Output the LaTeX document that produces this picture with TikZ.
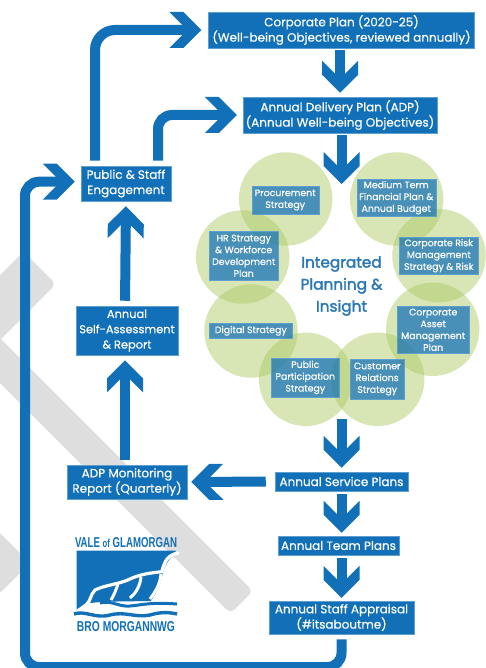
\documentclass[tikz,border=0pt]{standalone}
\usepackage{fontspec}
\usepackage{graphicx}
\setmainfont{Poppins}[RawFeature={embolden=0.5}]
\newfontfamily\corefont{Poppins}[RawFeature={embolden=2.2}]
\newfontfamily\logofont{Liberation Sans}[BoldFont={Liberation Sans Bold}]
\usetikzlibrary{arrows.meta}
\definecolor{flowblue}{HTML}{1170B8}
\definecolor{ringgreen}{HTML}{A9C75E}
\definecolor{wmgray}{HTML}{DEDEDE}
\definecolor{boxedge}{HTML}{5F9FD0}
\definecolor{coretext}{HTML}{2A78B6}
\pgfdeclarearrow{
  name=Chev,
  setup code={
    \pgfarrowssettipend{0pt}
    \pgfarrowssetlineend{-13pt}
    \pgfarrowssetbackend{-32pt}
    \pgfarrowssetvisualbackend{-13pt}
    \pgfarrowshullpoint{0pt}{0pt}
    \pgfarrowsupperhullpoint{-32pt}{18pt}
  },
  drawing code={
    \pgfpathmoveto{\pgfpointorigin}
    \pgfpathlineto{\pgfpoint{-18pt}{18pt}}
    \pgfpathlineto{\pgfpoint{-32pt}{18pt}}
    \pgfpathlineto{\pgfpoint{-14pt}{0pt}}
    \pgfpathlineto{\pgfpoint{-32pt}{-18pt}}
    \pgfpathlineto{\pgfpoint{-18pt}{-18pt}}
    \pgfpathclose
    \pgfusepathqfill
  },
  defaults={}
}
\tikzset{
  flow/.style={color=flowblue,line width=10pt,-{Chev}},
  mainbox/.style={draw=boxedge,line width=.5pt,fill=flowblue,text=white,inner sep=0pt,align=center,
    font=\fontsize{12}{15.3}\selectfont},
  smallbox/.style={draw=boxedge,line width=.4pt,fill=flowblue,fill opacity=.72,text opacity=1,text=white,inner sep=0pt,align=center,
    font=\fontsize{9.4}{11.8}\selectfont},
  ring/.style={circle,fill=ringgreen,fill opacity=.45,minimum size=93.5pt,inner sep=0pt},
  wm/.style={fill=wmgray,rounded corners=6pt},
  corelabel/.style={text=coretext,align=center,font=\corefont\fontsize{15.3}{22}\selectfont},
  logotext/.style={text=flowblue,inner sep=0pt,font=\logofont\bfseries}
}
\begin{document}
\begin{tikzpicture}[x=1pt,y=-1pt]
\useasboundingbox (0,0) rectangle (485,668);
% watermark
\fill[wm] (-5,280) -- (23.5,251.5) -- (56,284) -- (-5,345) -- cycle;
\fill[wm] (-5,333) -- (253,591) -- (230.5,613.5) -- (-5,378) -- cycle;
\fill[wm,rounded corners=10pt] (-5,528) -- (30,563) -- (-5,598) -- cycle;
% rings
\node[ring] (r1) at (285.7,199) {};
\node[ring] (r2) at (396.7,199) {};
\node[ring] (r3) at (439,255.7) {};
\node[ring] (r4) at (432.7,329.3) {};
\node[ring] (r5) at (377.7,379.3) {};
\node[ring] (r6) at (305.7,379.3) {};
\node[ring] (r7) at (251,331) {};
\node[ring] (r8) at (242.7,257) {};
% main boxes
\node[mainbox,minimum width=266pt,minimum height=36pt] (corp) at (341.5,30) {Corporate Plan (2020-25)\\(Well-being Objectives, reviewed annually)};
\node[mainbox,minimum width=194pt,minimum height=36pt] (adp) at (340,115) {Annual Delivery Plan (ADP)\\(Annual Well-being Objectives)};
\node[mainbox,minimum width=90pt,minimum height=35pt] (pub) at (126,183.5) {Public \& Staff\\Engagement};
\node[mainbox,minimum width=102pt,minimum height=49pt,font=\fontsize{11.4}{15.3}\selectfont] (self) at (127,330.5) {Annual\\Self-Assessment\\\& Report};
\node[mainbox,minimum width=120pt,minimum height=34pt] (mon) at (127,482) {ADP Monitoring\\Report (Quarterly)};
\node[mainbox,minimum width=133pt,minimum height=19pt] (serv) at (341.5,481.5) {Annual Service Plans};
\node[mainbox,minimum width=121pt,minimum height=19pt] (team) at (338.5,545.5) {Annual Team Plans};
\node[mainbox,minimum width=145pt,minimum height=33pt] (appr) at (341.5,617.5) {Annual Staff Appraisal\\(\#itsaboutme)};
% centre
\node[corelabel] (core) at (341.5,286) {Integrated\\Planning \&\\Insight};
\coordinate (ringin) at (341.5,184);
\coordinate (ringout) at (341.5,415);
\coordinate (loopbr) at (341.5,667);
\coordinate (loopbl) at (25,667);
\coordinate (looptl) at (25,181.7);
% connectors
\draw[flow,shorten <=2pt,shorten >=4pt] (corp.south -| adp.north) -- (adp.north);
\draw[flow,shorten <=2pt] (adp.south -| ringin) -- (ringin);
\draw[flow,shorten <=4pt,shorten >=4pt] (ringout) -- (serv.north);
\draw[flow,shorten <=3pt,shorten >=3pt] (serv.south) -- (serv.south |- team.north);
\draw[flow,shorten <=3pt,shorten >=3pt] (serv.south |- team.south) -- (appr.north);
\draw[flow,shorten <=9pt,shorten >=4pt] (serv.west) -- (mon.east);
\draw[flow,shorten <=5pt,shorten >=5pt] (mon.north) ++(-2pt,0pt) -- ([xshift=-2pt]self.south);
\draw[flow,shorten <=5pt,shorten >=5pt] ([xshift=-2pt]self.north) -- (pub.south);
\draw[flow,rounded corners=20pt,shorten <=5pt,shorten >=7pt] ([xshift=-31pt]pub.north) |- (corp.west);
\draw[flow,rounded corners=14pt,shorten <=5pt,shorten >=6pt] ([xshift=32pt]pub.north) |- (adp.west);
\draw[flow,rounded corners=14pt,shorten <=5pt,shorten >=6pt] (appr.south) -- (loopbr) -- (loopbl) -- (looptl) -- (pub.west |- looptl);
% small boxes
\node[smallbox,minimum width=67pt,minimum height=28pt] (b1) at (285.2,200) {Procurement\\Strategy};
\node[smallbox,minimum width=79pt,minimum height=36.7pt] (b2) at (396.2,197.7) {Medium Term\\Financial Plan \&\\Annual Budget};
\node[smallbox,minimum width=78.3pt,minimum height=37.3pt] (b3) at (438.8,255.7) {Corporate Risk\\Management\\Strategy \& Risk};
\node[smallbox,minimum width=71.7pt,minimum height=47.7pt] (b4) at (433.2,329.8) {Corporate\\Asset\\Management\\Plan};
\node[smallbox,minimum width=53.7pt,minimum height=40pt] (b5) at (377.2,379) {Customer\\Relations\\Strategy};
\node[smallbox,minimum width=67.3pt,minimum height=39.3pt] (b6) at (305.3,377.4) {Public\\Participation\\Strategy};
\node[smallbox,minimum width=83.7pt,minimum height=15.7pt] (b7) at (250.8,330.8) {Digital Strategy};
\node[smallbox,minimum width=69.3pt,minimum height=48.3pt] (b8) at (243.7,255.8) {HR Strategy\\\& Workforce\\Development\\Plan};
% logo
\node[logotext] (logotop) at (126,543) {\resizebox{102pt}{10pt}{VALE {\fontsize{8}{8}\selectfont of} GLAMORGAN}};
\node[logotext] (logobot) at (126,627) {\resizebox{98pt}{10pt}{BRO MORGANNWG}};
\fill[flowblue] (76.7,550.7) -- (175.7,550.7) -- (175.7,553) .. controls (168,560) and (165,565) .. (163,572) .. controls (161,585) and (156,594) .. (150.7,601) -- (103.3,601.7) -- (90,603) -- (76.7,611) -- cycle;
\draw[white,line width=3.2pt,line cap=round] (178,553) .. controls (168,555) and (165,560) .. (161.7,571.7) .. controls (150,573) and (141,574) .. (130,579) .. controls (120,584) and (105,585) .. (95,590) .. controls (90,595) and (91,601) .. (86,605) -- (76,612);
\draw[white,line width=3pt] (161,574) .. controls (160,585) and (155,592) .. (150,599);
\draw[white,line width=3pt] (141,577) .. controls (140,587) and (135,594) .. (130,598);
\draw[white,line width=3pt] (118,584) .. controls (116,590) and (114,595) .. (111,600);
\draw[flowblue,line width=3pt] (100,603) .. controls (112,600) and (118,607) .. (130,606) .. controls (142,605) and (150,602) .. (177,604);
\draw[flowblue,line width=3.4pt] (74,614) .. controls (85,610) and (95,619) .. (110,615) .. controls (125,611) and (135,618) .. (150,615) .. controls (160,612) and (168,612) .. (177,614);
\end{tikzpicture}
\end{document}
